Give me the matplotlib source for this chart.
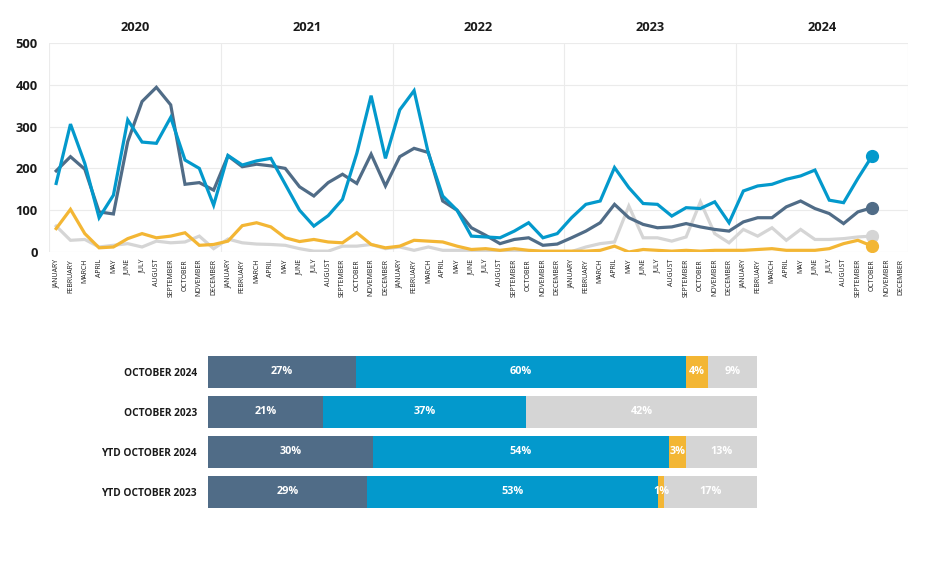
import numpy as np
import matplotlib
matplotlib.use('Agg')
import matplotlib.pyplot as plt

plt.rcParams['font.family'] = ['Open Sans', 'DejaVu Sans']

#%% data

years = ['2020', '2021', '2022', '2023', '2024']
months = ['JANUARY', 'FEBRUARY', 'MARCH', 'APRIL', 'MAY', 'JUNE', 'JULY',
          'AUGUST', 'SEPTEMBER', 'OCTOBER', 'NOVEMBER', 'DECEMBER']

# monthly values, January 2020 to October 2024
series_1 = [194, 228, 198, 96, 91, 264, 360, 394, 352, 162, 166, 148,
            230, 204, 210, 206, 200, 156, 134, 166, 186, 164, 234, 158,
            228, 248, 238, 122, 100, 58, 40, 20, 30, 34, 16, 19,
            34, 50, 70, 114, 82, 66, 58, 60, 68, 60, 54, 50,
            72, 82, 82, 108, 122, 104, 92, 68, 96, 106]
series_2 = [164, 306, 212, 82, 136, 316, 263, 260, 322, 220, 200, 112,
            231, 208, 218, 224, 162, 100, 62, 87, 126, 236, 374, 224,
            340, 386, 236, 134, 100, 38, 36, 34, 50, 70, 34, 44,
            82, 114, 122, 202, 154, 116, 114, 86, 106, 104, 120, 70,
            146, 158, 162, 174, 182, 196, 124, 118, 176, 230]
series_3 = [56, 102, 44, 10, 12, 32, 44, 34, 38, 46, 16, 18,
            26, 63, 70, 60, 34, 25, 30, 24, 22, 46, 18, 10,
            14, 28, 26, 24, 14, 6, 8, 4, 8, 4, 2, 2,
            2, 2, 4, 14, 0, 6, 4, 2, 4, 2, 4, 4,
            4, 6, 8, 4, 4, 4, 8, 20, 28, 14]
series_4 = [62, 28, 30, 12, 16, 20, 12, 26, 22, 24, 38, 8,
            31, 22, 19, 18, 16, 8, 2, 2, 14, 14, 18, 8,
            12, 4, 12, 4, 4, 4, 2, 2, 2, 2, 1, 1,
            1, 12, 20, 24, 110, 34, 34, 26, 36, 120, 44, 22,
            54, 38, 58, 28, 54, 30, 30, 32, 36, 38]

bar_labels = ['OCTOBER 2024', 'OCTOBER 2023', 'YTD OCTOBER 2024', 'YTD OCTOBER 2023']
share_1 = [27, 21, 30, 29]
share_2 = [60, 37, 54, 53]
share_3 = [4, 0, 3, 1]
share_4 = [9, 42, 13, 17]

#%% style

colors = ['#506c87', '#0399cc', '#f3b634', '#d5d5d5']
grid_col = '#ebebeb'
text_col = '#1a1a1a'

fig = plt.figure(figsize=(9.36, 5.86), dpi=100)

#%% line chart

ax = fig.add_axes([49/936, 1 - 252/586, (908 - 49)/936, (252 - 43)/586])
n_months = len(years) * 12
x = np.arange(len(series_1))

# draw grey series first so the others sit on top
order = [3, 2, 0, 1]
all_series = [series_1, series_2, series_3, series_4]
for k in order:
    ax.plot(x, all_series[k], color=colors[k], lw=2.3, solid_joinstyle='miter', zorder=3)
    ax.plot(x[-1], all_series[k][-1], 'o', color=colors[k], ms=8.5, zorder=4)

ax.set_xlim(-0.5, n_months - 0.5)
ax.set_ylim(0, 500)
ax.set_yticks(range(0, 501, 100))
ax.yaxis.grid(True, color=grid_col, lw=0.8)
ax.set_axisbelow(True)
for b in range(len(years) + 1):
    ax.axvline(b*12 - 0.5, color=grid_col, lw=0.8, zorder=0)
for s in ax.spines.values():
    s.set_visible(False)

ax.set_xticks(np.arange(n_months))
ax.set_xticklabels(months * len(years), rotation=90, fontsize=5, color=text_col)
ax.tick_params(axis='x', length=0, pad=5)
ax.tick_params(axis='y', length=0, pad=8, labelsize=9.3, labelcolor=text_col)
for lab in ax.get_yticklabels():
    lab.set_fontweight('bold')

for i, yr in enumerate(years):
    ax.text(i*12 + 5.5, 1.045, yr, transform=ax.get_xaxis_transform(),
            ha='center', va='bottom', fontsize=9.3, fontweight='bold', color=text_col)

#%% stacked bar chart

bx = fig.add_axes([208/936, 1 - 512/586, (757 - 208)/936, (512 - 352)/586])
rows = np.arange(len(bar_labels))
shares = [share_1, share_2, share_3, share_4]
left = np.zeros(len(rows))
for k, vals in enumerate(shares):
    vals = np.array(vals, dtype=float)
    bx.barh(rows, vals, left=left, height=0.8, color=colors[k], edgecolor='none')
    for r in rows:
        if vals[r] > 0:
            bx.text(left[r] + vals[r]/2, r, f'{int(vals[r])}%', ha='center', va='center',
                    color='white', fontsize=7.8, fontweight='bold')
    left += vals

bx.set_xlim(0, 100)
bx.set_ylim(3.5, -0.5)
bx.set_yticks(rows)
bx.set_yticklabels(bar_labels, fontsize=7.3, fontweight='bold', color=text_col)
bx.tick_params(axis='y', length=0, pad=8)
bx.set_xticks([])
for s in bx.spines.values():
    s.set_visible(False)

plt.savefig('out.png', dpi=100)
plt.close()
